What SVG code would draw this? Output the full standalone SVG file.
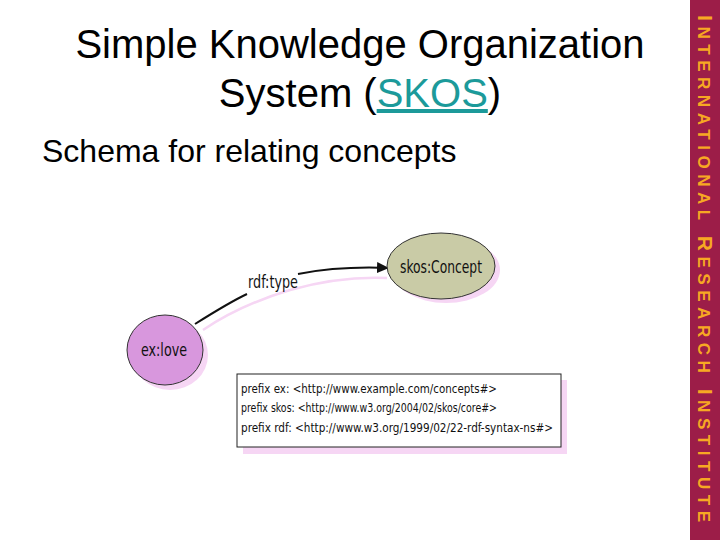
<svg xmlns="http://www.w3.org/2000/svg" width="720" height="540" viewBox="0 0 720 540">
<defs>
<marker id="arr" markerWidth="12" markerHeight="11" refX="11" refY="5.5" orient="auto" markerUnits="userSpaceOnUse">
<path d="M0,0 L12,5.5 L0,11 z" fill="#111"/>
</marker>
<style>
.title{font-family:"Liberation Sans",Arial,sans-serif;font-size:40px;fill:#000}
.sub{font-family:"Liberation Sans",Arial,sans-serif;font-size:32px;fill:#000}
.node{font-family:"DejaVu Sans Condensed","DejaVu Sans",sans-serif;font-stretch:condensed;font-size:17px;fill:#111}
.pre{font-family:"DejaVu Sans Condensed","DejaVu Sans",sans-serif;font-stretch:condensed;font-size:13px;fill:#111}
.side{font-family:"Liberation Sans",Arial,sans-serif;font-weight:bold;fill:#F7A823}
.shadow{fill:#F6D6F4;stroke:none}
</style>
</defs>
<rect x="0" y="0" width="720" height="540" fill="#fff"/>
<rect x="690" y="0" width="30" height="540" fill="#9C1D48"/>
<g id="sidebar">
<text class="side" transform="translate(698,15) rotate(90)" font-size="17" letter-spacing="5" textLength="512" lengthAdjust="spacing"><tspan font-size="21">I</tspan>NTERNATIONAL <tspan font-size="21">R</tspan>ESEARCH <tspan font-size="21">I</tspan>NSTITUTE</text>
</g>
<g id="title">
<text class="title" x="360" y="58" text-anchor="middle">Simple Knowledge Organization</text>
<text class="title" x="360" y="107" text-anchor="middle">System (<tspan fill="#1C9A9A" text-decoration="underline">SKOS</tspan>)</text>
<text class="sub" x="42" y="162">Schema for relating concepts</text>
</g>
<g id="connectors">
<path d="M203,330 Q240,305 290,290 Q340,276 387,278" fill="none" stroke="#F6D6F4" stroke-width="2.5"/>
<path d="M195,324 Q230,302 247,294" fill="none" stroke="#111" stroke-width="2"/>
<path d="M298,274 Q340,266 388,268" fill="none" stroke="#111" stroke-width="2" marker-end="url(#arr)"/>
<text class="node" x="273" y="288" text-anchor="middle" textLength="50" lengthAdjust="spacingAndGlyphs">rdf:type</text>
</g>
<g id="skosConcept">
<ellipse class="shadow" cx="446" cy="270" rx="54" ry="33"/>
<ellipse cx="441" cy="266" rx="54" ry="33" fill="#C9CBA6" stroke="#333" stroke-width="1"/>
<text class="node" x="441" y="273" text-anchor="middle" textLength="82" lengthAdjust="spacingAndGlyphs">skos:Concept</text>
</g>
<g id="exLove">
<ellipse class="shadow" cx="170" cy="355" rx="38" ry="35"/>
<ellipse cx="165" cy="350" rx="38" ry="35" fill="#D897DD" stroke="#333" stroke-width="1"/>
<text class="node" x="164" y="356" text-anchor="middle" textLength="46" lengthAdjust="spacingAndGlyphs">ex:love</text>
</g>
<g id="prefixes">
<rect class="shadow" x="243" y="380" width="324" height="74"/>
<rect x="237" y="374" width="324" height="73" fill="#fff" stroke="#222" stroke-width="1"/>
<text class="pre" x="241" y="393" textLength="256" lengthAdjust="spacingAndGlyphs">prefix ex: &lt;http://www.example.com/concepts#&gt;</text>
<text class="pre" x="241" y="412" textLength="256" lengthAdjust="spacingAndGlyphs">prefix skos: &lt;http://www.w3.org/2004/02/skos/core#&gt;</text>
<text class="pre" x="241" y="432" textLength="312" lengthAdjust="spacingAndGlyphs">prefix rdf: &lt;http://www.w3.org/1999/02/22-rdf-syntax-ns#&gt;</text>
</g>
</svg>
